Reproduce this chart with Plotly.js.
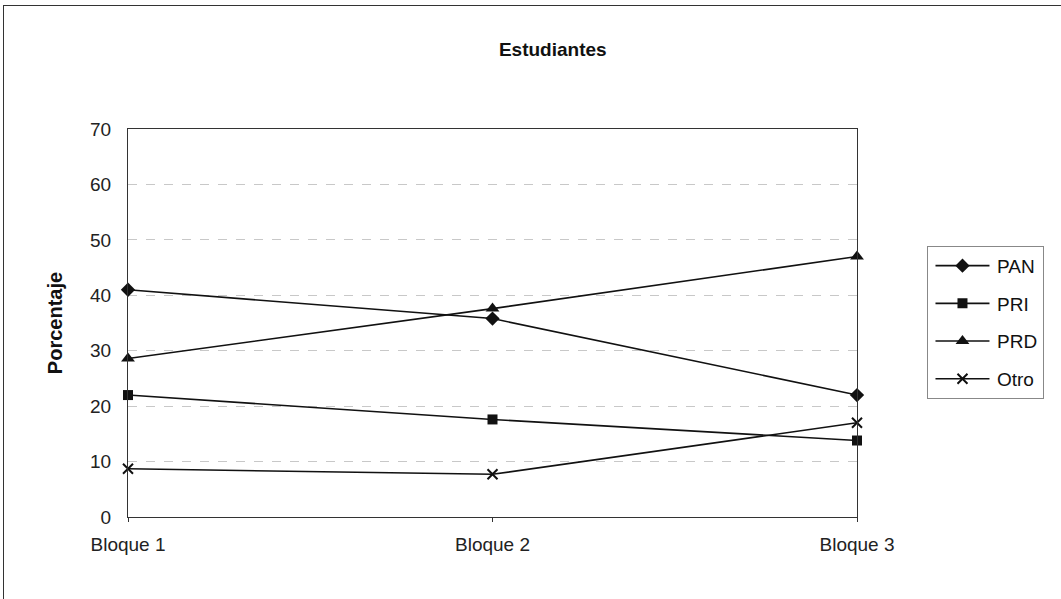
<!DOCTYPE html>
<html>
<head>
<meta charset="utf-8">
<script src="https://cdn.plot.ly/plotly-3.0.1.min.js"></script>
<style>
  html, body { margin: 0; padding: 0; background: #fff; }
  #frame { position: absolute; left: 3px; top: 5px; width: 1058px; height: 594px;
           border-left: 1px solid #333; border-top: 1px solid #333; }
  #chart { position: absolute; left: 0; top: 0; width: 1061px; height: 599px; }
</style>
</head>
<body>
<div id="chart"></div>
<div id="frame"></div>
<script>
// data
const bloques = ['Bloque 1', 'Bloque 2', 'Bloque 3'];
const pan  = [41.0, 35.8, 22.0];
const pri  = [22.0, 17.6, 13.8];
const prd  = [28.6, 37.6, 47.0];
const otro = [8.7, 7.7, 17.0];

const yTicks = [0, 10, 20, 30, 40, 50, 60, 70];

function serie(y, name, symbol, size) {
  return {
    x: bloques, y: y, name: name, legendgroup: name,
    type: 'scatter', mode: 'lines+markers', cliponaxis: false,
    line: { color: '#111', width: 1.6 },
    marker: { symbol: symbol, size: size, color: '#111',
              line: { color: '#111', width: symbol === 'x-thin' ? 2 : 0 } }
  };
}

const data = [
  serie(pan, 'PAN', 'diamond', 11),
  serie(pri, 'PRI', 'square', 10),
  serie(prd, 'PRD', 'triangle-up', 12),
  serie(otro, 'Otro', 'x-thin', 10)
];

const layout = {
  width: 1061, height: 599,
  margin: { l: 128, r: 204, t: 129, b: 82 },
  paper_bgcolor: '#fff', plot_bgcolor: '#fff',
  font: { family: 'Liberation Sans, Arial, sans-serif', color: '#222', size: 20 },
  title: { text: '<b>Estudiantes</b>', x: 0.521, xanchor: 'center', y: 0.917, yanchor: 'middle',
           font: { size: 19, color: '#111', family: 'Liberation Sans, Arial, sans-serif' } },
  xaxis: {
    type: 'category', range: [0, 2], showgrid: false, zeroline: false,
    showline: true, linecolor: '#333', linewidth: 1, mirror: true,
    ticks: 'outside', ticklen: 4, tickcolor: '#333', ticklabelstandoff: 6,
    tickfont: { size: 19 }
  },
  yaxis: {
    range: [0, 70], tickvals: yTicks, ticktext: yTicks.map(String),
    showgrid: true, gridcolor: '#c8c8c8', griddash: 'dash', gridwidth: 1,
    zeroline: false, showline: true, linecolor: '#333', linewidth: 1, mirror: true,
    ticks: '', ticklabelstandoff: 12,
    title: { text: '<b>Porcentaje</b>', standoff: 22, font: { size: 20, color: '#111' } },
    tickfont: { size: 19 }
  },
  legend: {
    x: 1.096, xanchor: 'left', y: 0.699, yanchor: 'top',
    bordercolor: '#888', borderwidth: 1, bgcolor: '#fff',
    traceorder: 'grouped', tracegroupgap: 10, itemwidth: 59,
    font: { size: 19, color: '#111' }
  },
  showlegend: true
};

Plotly.newPlot('chart', data, layout, { displayModeBar: false, staticPlot: true }).then(function (gd) {
  // longer legend line samples, centred on the marker
  gd.querySelectorAll('.legend .traces').forEach(function (tr) {
    const pt = tr.querySelector('.legendpoints path');
    const ln = tr.querySelector('.legendlines path');
    if (!pt || !ln) return;
    const m = /translate\(([-\d.]+)/.exec(pt.getAttribute('transform') || '');
    const cx = m ? parseFloat(m[1]) : 20;
    ln.setAttribute('d', 'M' + (cx - 27) + ',0h54');
  });
});
</script>
</body>
</html>
